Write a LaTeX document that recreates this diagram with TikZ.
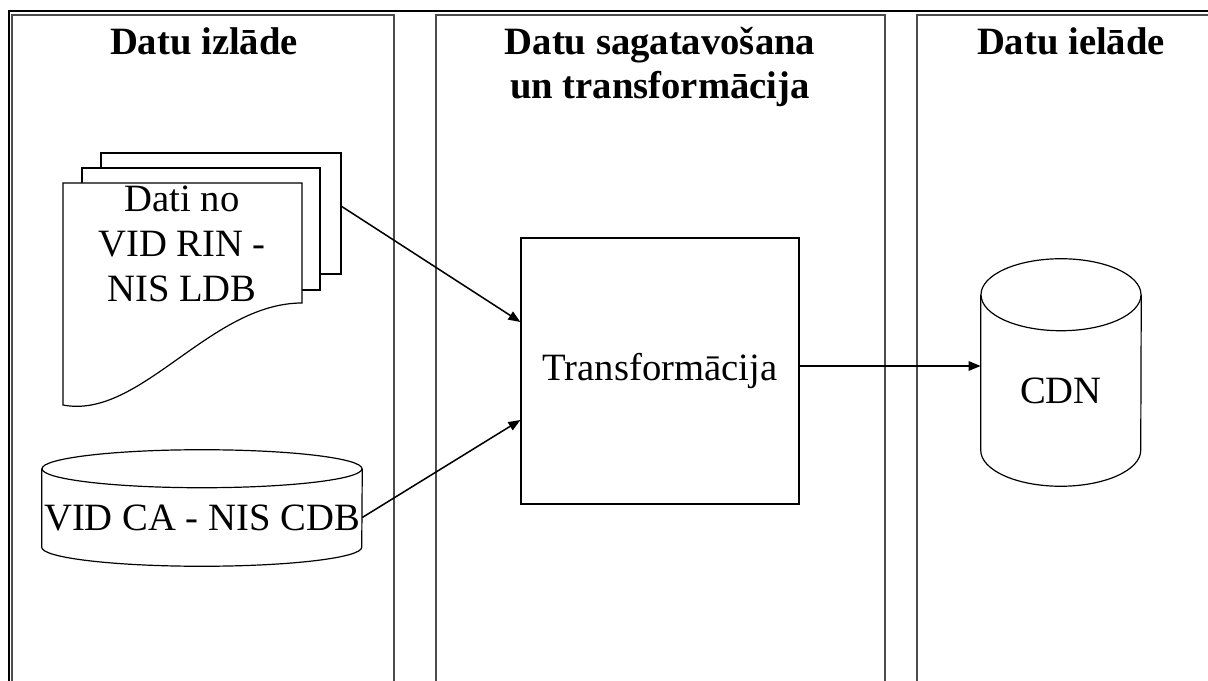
\documentclass[tikz,border=0pt]{standalone}
\usepackage{fontspec}
\setmainfont{Liberation Serif}
\usepackage{tikz}
\usetikzlibrary{arrows.meta,shapes,shapes.geometric}
\usetikzlibrary{positioning}

\begin{document}
\begin{tikzpicture}[x=0.75pt,y=-0.75pt,
  lane/.style={draw=black!70, line width=1.3pt},
  lanehead/.style={font=\fontsize{29pt}{33pt}\selectfont\bfseries, align=center, inner sep=0pt},
  bodytxt/.style={font=\fontsize{29pt}{33.75pt}\selectfont, align=center, inner sep=0pt},
  page/.style={draw, fill=white, line width=0.9pt},
  flow/.style={-{Triangle[length=9pt,width=7pt]}, line width=1.15pt}]

\useasboundingbox (0,0) rectangle (1208,681);
\clip (0,0) rectangle (1208,681);

% swimlanes
\draw[lane] (12,15) rectangle (394,700);
\draw[lane] (436,15) rectangle (885,700);
\draw[lane] (917,15) rectangle (1225,700);
\draw[line width=1.9pt] (9,700) -- (9,11) -- (1220,11);

\node[lanehead, anchor=base] (h1) at (204,55) {Datu izlāde};
\node[lanehead, anchor=north] (h2) at (660,27) {Datu sagatavošana\\un transformācija};
\node[lanehead, anchor=base] (h3) at (1071,55) {Datu ielāde};

% source documents
\draw[page] (101,153) rectangle (341,274);
\draw[page] (82,168) rectangle (320,290);
\draw[page] (63,183) -- (302,183) -- (302,303)
  .. controls (210,303) and (140,420) .. (63,405) -- cycle;
\node[bodytxt] (ldb) at (182,244) {Dati no\\VID RIN -\\NIS LDB};
\coordinate (ldbout) at (341,206);

% source database
\node[bodytxt, minimum width=240pt, minimum height=44.25pt] (cdb) at (202,517.5) {};
\draw[page] ([yshift=14.25pt]cdb.north west) -- (cdb.south west)
  arc[start angle=180, end angle=360, x radius=120pt, y radius=14.25pt]
  -- ([yshift=14.25pt]cdb.north east);
\draw[page] ([yshift=14.25pt]cdb.north) ellipse [x radius=120pt, y radius=14.25pt];
\node[bodytxt] (cdbtxt) at (cdb.center) {VID CA - NIS CDB};

% transformation
\node[draw, line width=0.9pt, bodytxt, minimum width=208.5pt, minimum height=199.5pt] (box) at (660,371) {Transformācija};

% target database
\node[bodytxt, minimum width=120pt, minimum height=89.25pt] (cdn) at (1061,390.5) {};
\draw[page] ([yshift=27pt]cdn.north west) -- (cdn.south west)
  arc[start angle=180, end angle=360, x radius=60pt, y radius=27pt]
  -- ([yshift=27pt]cdn.north east);
\draw[page] ([yshift=27pt]cdn.north) ellipse [x radius=60pt, y radius=27pt];
\node[bodytxt] (cdntxt) at (cdn.center) {CDN};

\path[draw] [flow] (ldbout) -- ([yshift=36.75pt]box.west);
\path[draw] [flow] (cdb.east) -- ([yshift=-36.75pt]box.west);
\path[draw] [flow] ([yshift=3.75pt]box.east) -- ([yshift=3.75pt]box.east -| cdn.west);

\end{tikzpicture}
\end{document}
